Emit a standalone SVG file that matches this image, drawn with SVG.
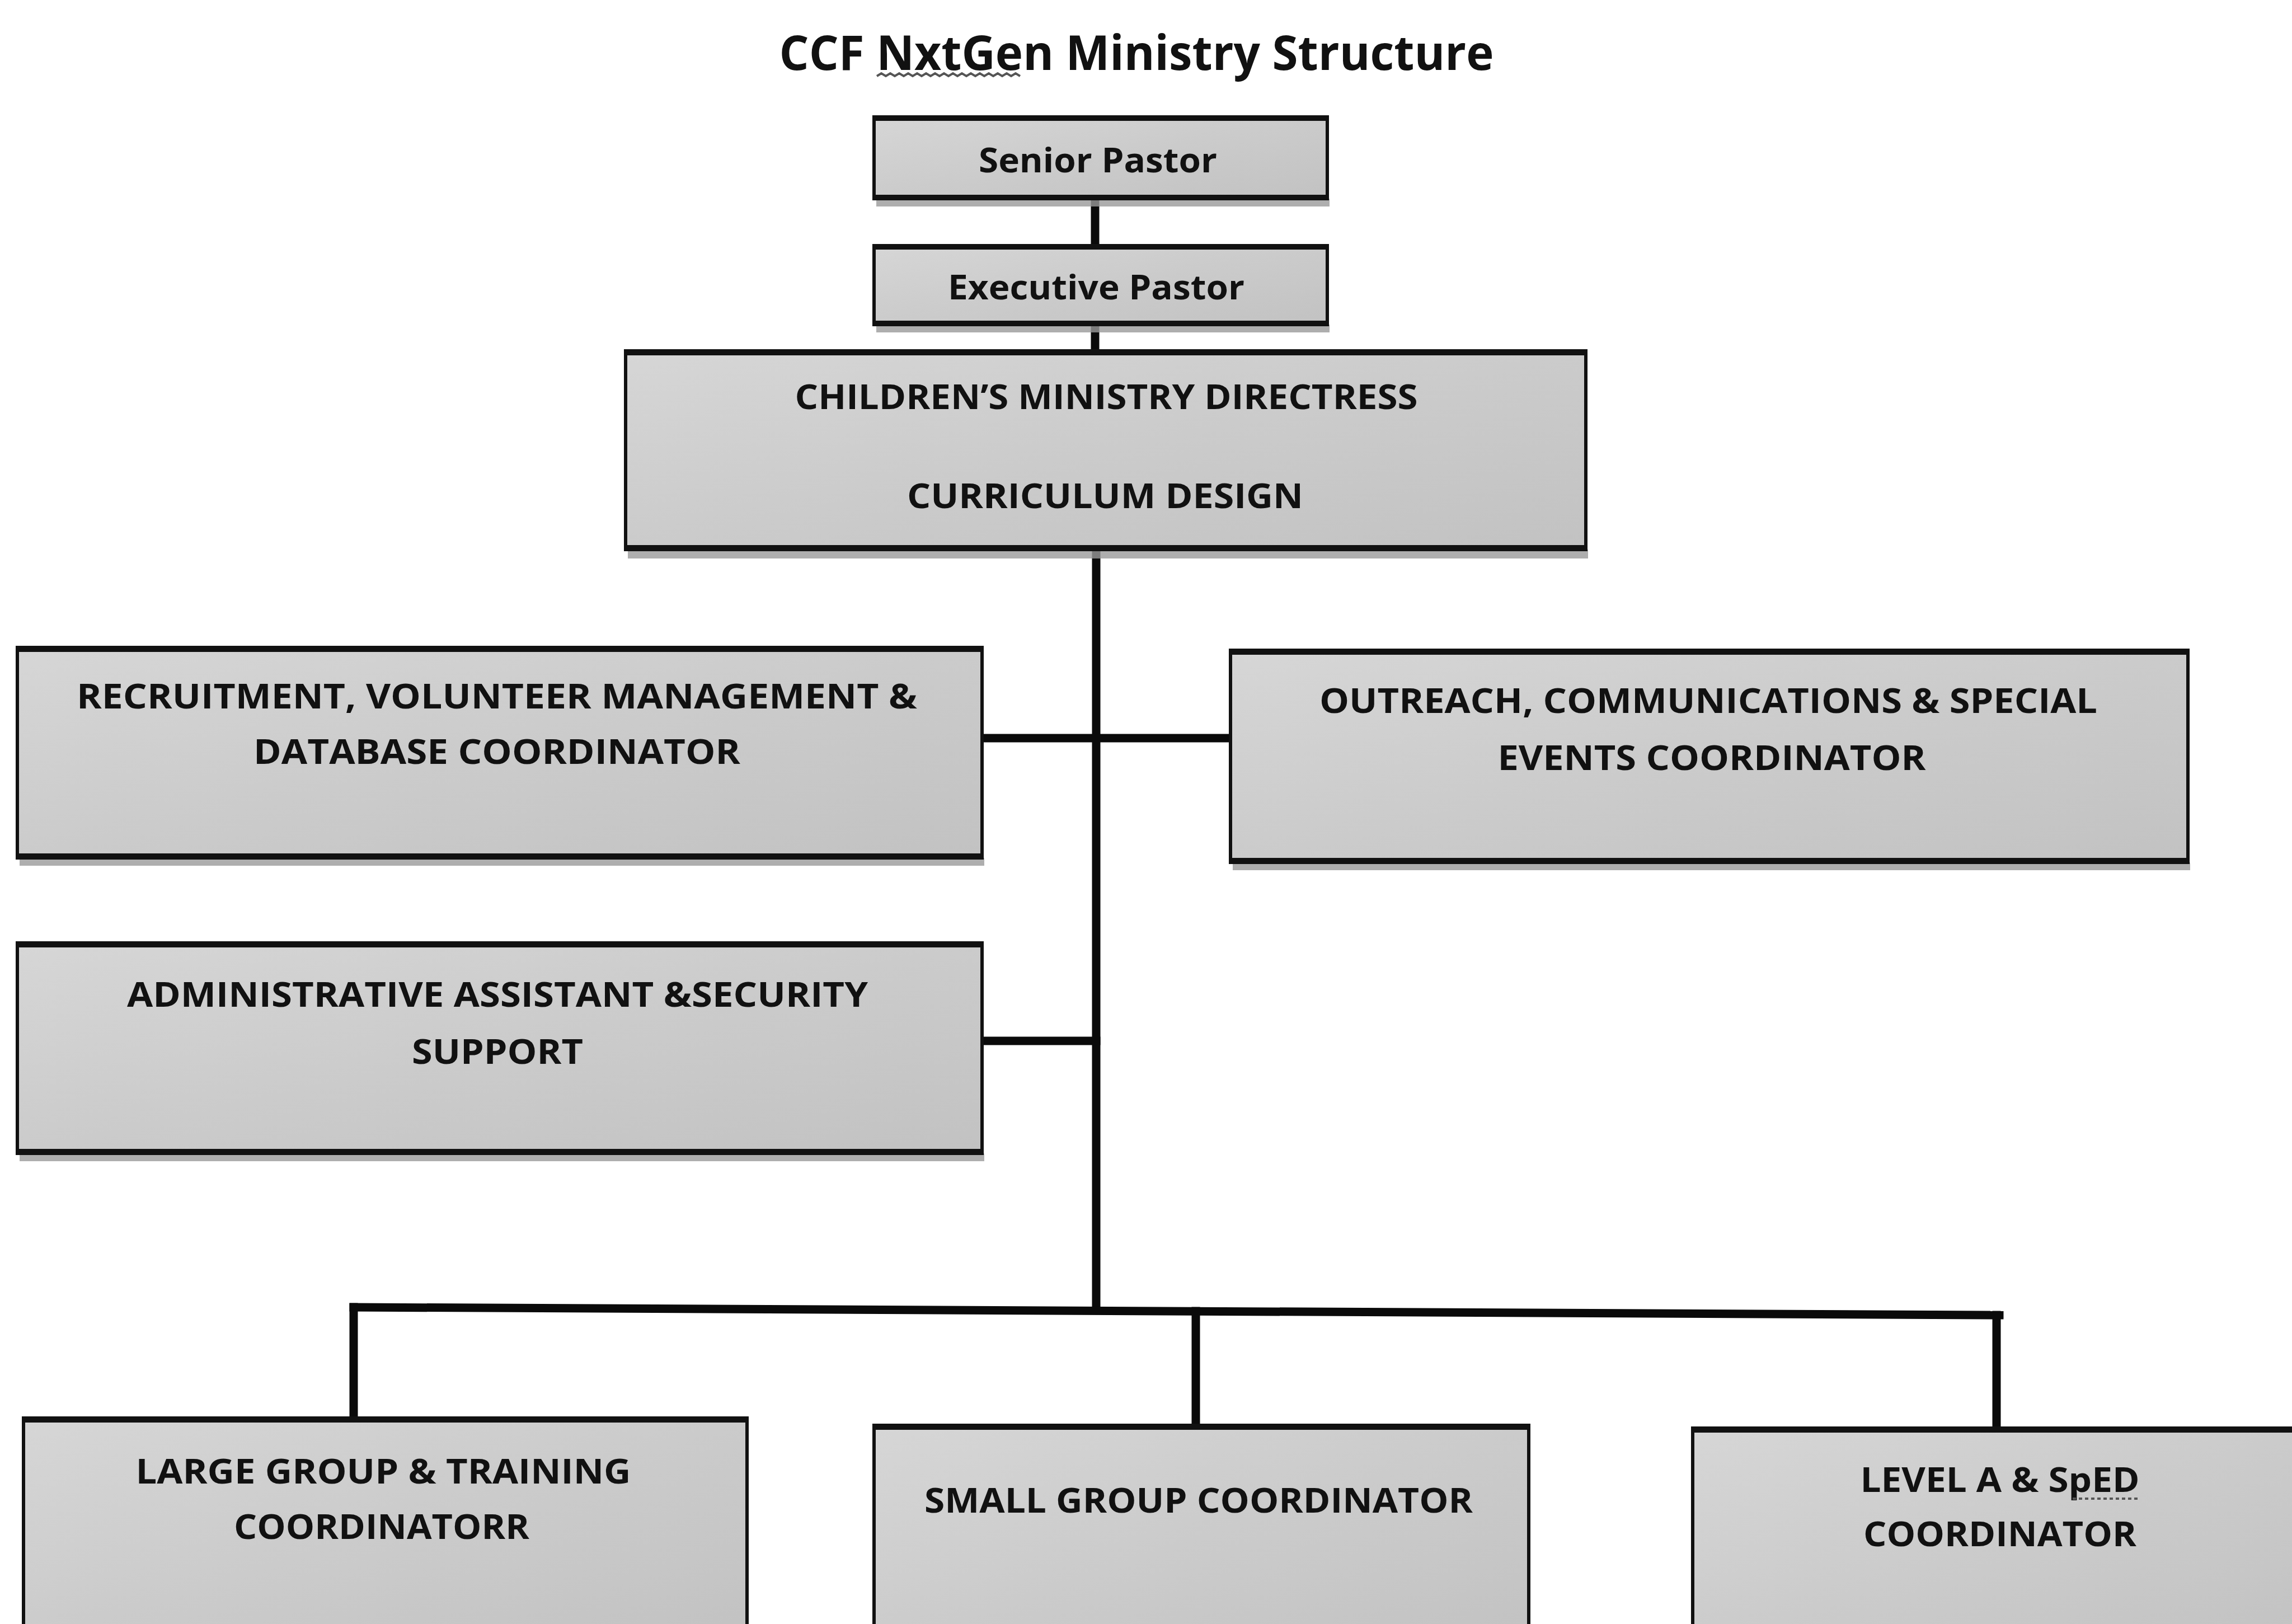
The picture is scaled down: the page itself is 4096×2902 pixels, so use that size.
<svg xmlns="http://www.w3.org/2000/svg" width="4096" height="2902" viewBox="0 0 4096 2902">
<style>
.box{fill:url(#g);stroke:#111;stroke-width:6}
.edge{stroke:#111;stroke-width:10}
.shd{fill:#9a9a9a;opacity:0.8}
.t{font-family:"Open Sans","Liberation Sans",sans-serif;font-weight:bold;font-size:60px;fill:#111;text-anchor:middle}
.title{font-size:86px}
.c{stroke:#0a0a0a;stroke-width:15;fill:none;stroke-linecap:square}
.sq{stroke:#555;stroke-width:4;fill:none}
</style>
<defs>
<linearGradient id="g" x1="0" y1="0" x2="1" y2="1">
<stop offset="0" stop-color="#d6d6d6"/>
<stop offset="0.5" stop-color="#cbcbcb"/>
<stop offset="1" stop-color="#c2c2c2"/>
</linearGradient>
</defs>
<rect width="4096" height="2902" fill="#fff"/>
<text class="t title" x="2031" y="125" textLength="1277" lengthAdjust="spacingAndGlyphs">CCF NxtGen Ministry Structure</text>
<path class="sq" d="M1567 136 l8 -5 l8 5 l8 -5 l8 5 l8 -5 l8 5 l8 -5 l8 5 l8 -5 l8 5 l8 -5 l8 5 l8 -5 l8 5 l8 -5 l8 5 l8 -5 l8 5 l8 -5 l8 5 l8 -5 l8 5 l8 -5 l8 5 l8 -5 l8 5 l8 -5 l8 5 l8 -5 l8 5 l8 -5 l8 5"/>
<g id="connectors">
<line class="c" x1="1957" y1="355" x2="1957" y2="439"/>
<line class="c" x1="1957" y1="580" x2="1957" y2="627"/>
<line class="c" x1="1959" y1="982" x2="1959" y2="2340"/>
<line class="c" x1="1755" y1="1319" x2="2199" y2="1319"/>
<line class="c" x1="1755" y1="1860" x2="1959" y2="1860"/>
<polyline class="c" points="632,2336 3573,2350"/>
<line class="c" x1="632" y1="2336" x2="632" y2="2534"/>
<line class="c" x1="2137" y1="2343" x2="2137" y2="2547"/>
<line class="c" x1="3568" y1="2350" x2="3568" y2="2552"/>
</g>
<g id="senior-pastor">
<rect class="shd" x="1566" y="355" width="810" height="14"/>
<rect class="box" x="1562" y="209" width="810" height="146"/>
<line class="edge" x1="1562" y1="211" x2="2372" y2="211"/><line class="edge" x1="1562" y1="353" x2="2372" y2="353"/>
<text class="t" x="1962" y="308" textLength="426" lengthAdjust="spacingAndGlyphs">Senior Pastor</text>
</g>
<g id="executive-pastor">
<rect class="shd" x="1566" y="580" width="810" height="14"/>
<rect class="box" x="1562" y="439" width="810" height="141"/>
<line class="edge" x1="1562" y1="441" x2="2372" y2="441"/><line class="edge" x1="1562" y1="578" x2="2372" y2="578"/>
<text class="t" x="1959" y="535" textLength="530" lengthAdjust="spacingAndGlyphs">Executive Pastor</text>
</g>
<g id="childrens-ministry">
<rect class="shd" x="1122" y="982" width="1716" height="16"/>
<rect class="box" x="1118" y="627" width="1716" height="355"/>
<line class="edge" x1="1118" y1="630" x2="2834" y2="630"/><line class="edge" x1="1118" y1="979" x2="2834" y2="979"/>
<text class="t" x="1977" y="731" textLength="1113" lengthAdjust="spacingAndGlyphs">CHILDREN’S MINISTRY DIRECTRESS</text>
<text class="t" x="1975" y="908" textLength="708" lengthAdjust="spacingAndGlyphs">CURRICULUM DESIGN</text>
</g>
<g id="recruitment">
<rect class="shd" x="35" y="1533" width="1724" height="14"/>
<rect class="box" x="31" y="1157" width="1724" height="376"/>
<line class="edge" x1="31" y1="1160" x2="1755" y2="1160"/><line class="edge" x1="31" y1="1530" x2="1755" y2="1530"/>
<text class="t" x="888" y="1266" textLength="1502" lengthAdjust="spacingAndGlyphs">RECRUITMENT, VOLUNTEER MANAGEMENT &amp;</text>
<text class="t" x="888" y="1365" textLength="870" lengthAdjust="spacingAndGlyphs">DATABASE COORDINATOR</text>
</g>
<g id="outreach">
<rect class="shd" x="2203" y="1541" width="1711" height="14"/>
<rect class="box" x="2199" y="1162" width="1711" height="379"/>
<line class="edge" x1="2199" y1="1165" x2="3910" y2="1165"/><line class="edge" x1="2199" y1="1538" x2="3910" y2="1538"/>
<text class="t" x="3053" y="1274" textLength="1390" lengthAdjust="spacingAndGlyphs">OUTREACH, COMMUNICATIONS &amp; SPECIAL</text>
<text class="t" x="3059" y="1376" textLength="765" lengthAdjust="spacingAndGlyphs">EVENTS COORDINATOR</text>
</g>
<g id="admin">
<rect class="shd" x="35" y="2061" width="1724" height="14"/>
<rect class="box" x="31" y="1685" width="1724" height="376"/>
<line class="edge" x1="31" y1="1688" x2="1755" y2="1688"/><line class="edge" x1="31" y1="2058" x2="1755" y2="2058"/>
<text class="t" x="889" y="1799" textLength="1324" lengthAdjust="spacingAndGlyphs">ADMINISTRATIVE ASSISTANT &amp;SECURITY</text>
<text class="t" x="889" y="1901" textLength="306" lengthAdjust="spacingAndGlyphs">SUPPORT</text>
</g>
<g id="large-group">
<rect class="box" x="42" y="2534" width="1293" height="400"/>
<line class="edge" x1="42" y1="2537" x2="1335" y2="2537"/>
<text class="t" x="685" y="2651" textLength="885" lengthAdjust="spacingAndGlyphs">LARGE GROUP &amp; TRAINING</text>
<text class="t" x="682" y="2750" textLength="528" lengthAdjust="spacingAndGlyphs">COORDINATORR</text>
</g>
<g id="small-group">
<rect class="box" x="1562" y="2547" width="1170" height="400"/>
<line class="edge" x1="1562" y1="2550" x2="2732" y2="2550"/>
<text class="t" x="2142" y="2703" textLength="980" lengthAdjust="spacingAndGlyphs">SMALL GROUP COORDINATOR</text>
</g>
<g id="level-a">
<rect class="box" x="3025" y="2552" width="1100" height="400"/>
<line class="edge" x1="3025" y1="2555" x2="4100" y2="2555"/>
<text class="t" x="3574" y="2666" textLength="499" lengthAdjust="spacingAndGlyphs">LEVEL A &amp; SpED</text>
<path class="sq" stroke-dasharray="6 5" d="M3704 2678 H3824"/>
<text class="t" x="3574" y="2763" textLength="488" lengthAdjust="spacingAndGlyphs">COORDINATOR</text>
</g>
</svg>
